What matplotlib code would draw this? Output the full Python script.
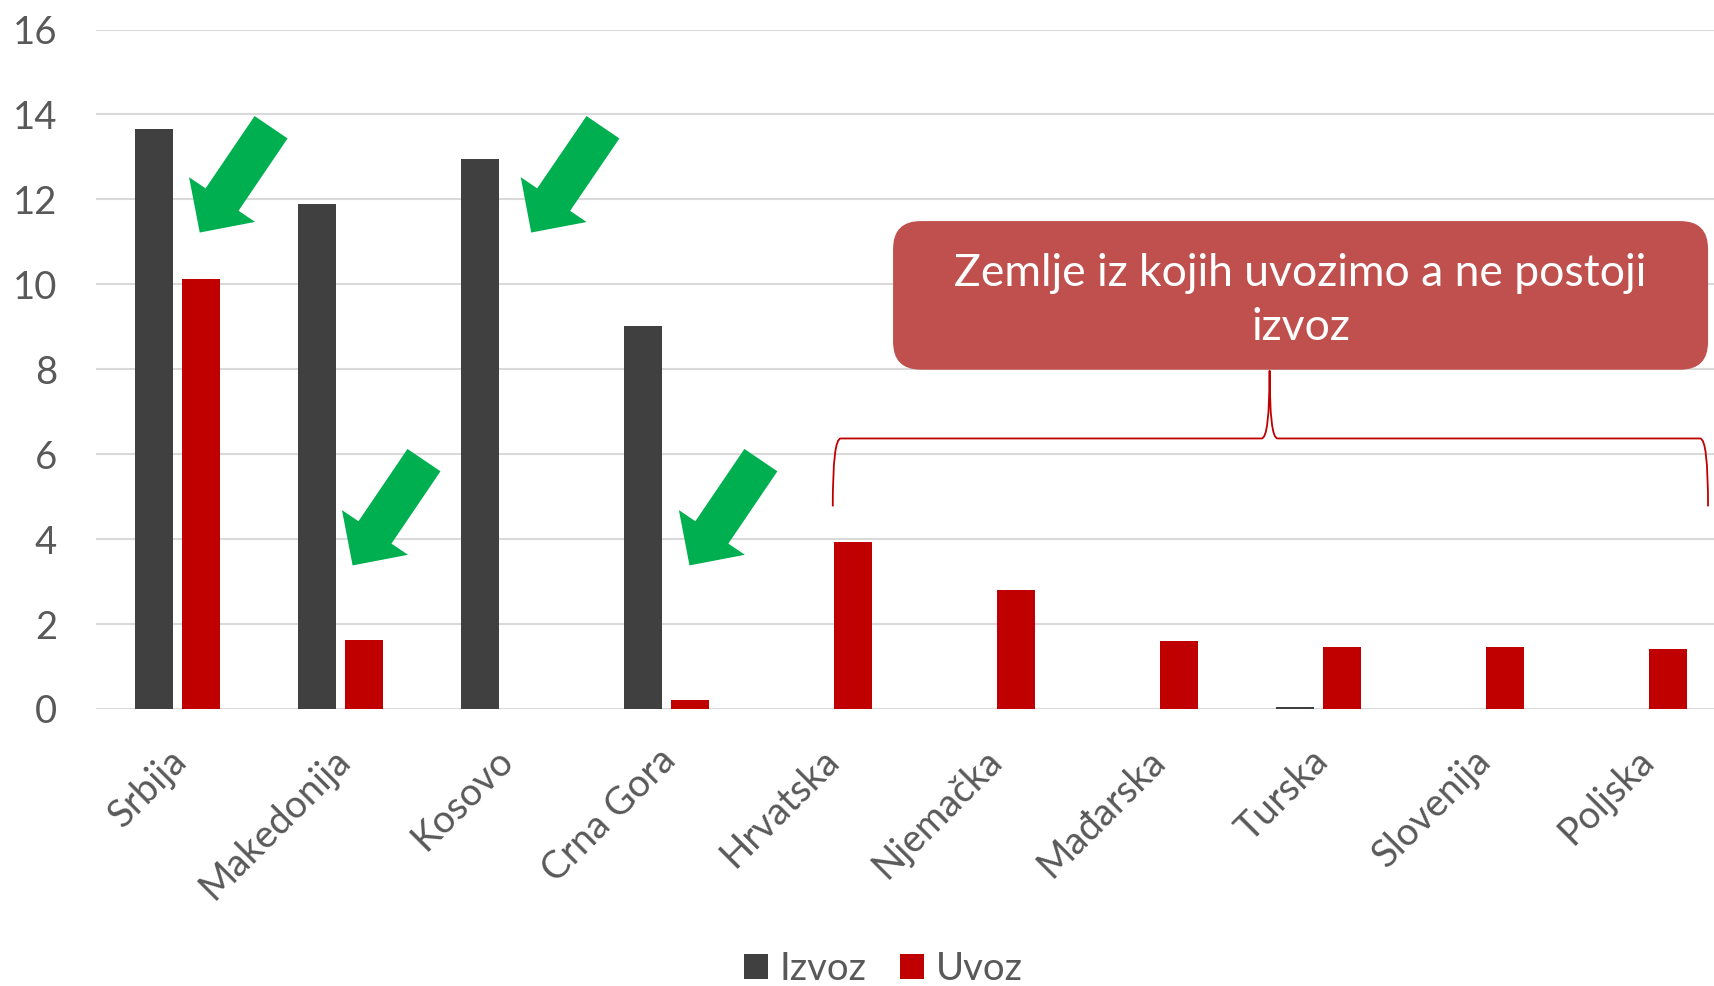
import matplotlib.pyplot as plt
import matplotlib.transforms as mtransforms
import numpy as np
from matplotlib.patches import FancyBboxPatch, PathPatch
from matplotlib.path import Path

plt.rcParams['font.family'] = ['Lato', 'DejaVu Sans']

# data
countries = ['Srbija', 'Makedonija', 'Kosovo', 'Crna Gora', 'Hrvatska',
             'Njemačka', 'Mađarska', 'Turska', 'Slovenija', 'Poljska']
izvoz = [13.66, 11.9, 12.96, 9.02, 0, 0, 0, 0.05, 0, 0]
uvoz = [10.13, 1.62, 0, 0.21, 3.94, 2.81, 1.6, 1.45, 1.45, 1.42]
yticks = [0, 2, 4, 6, 8, 10, 12, 14, 16]

# arrows: (tip, tail) in data units
arrows = [((0.136, 11.22), (0.574, 13.70)),
          ((2.17, 11.22), (2.61, 13.70)),
          ((1.074, 3.38), (1.512, 5.86)),
          ((3.141, 3.38), (3.579, 5.86))]

note = 'Zemlje iz kojih uvozimo a ne postoji\nizvoz'

GREY = '#404040'
RED = '#C00000'
TXT = '#595959'

fig = plt.figure(figsize=(17.15, 9.86), dpi=100)
ax = fig.add_axes([0.056, 0.281, 0.9504, 0.689])

x = np.arange(len(countries))
w = 0.228
ax.bar(x - 0.144, izvoz, w, color=GREY, label='Izvoz', zorder=2)
ax.bar(x + 0.144, uvoz, w, color=RED, label='Uvoz', zorder=2)

ax.set_xlim(-0.5, 9.5)
ax.set_ylim(0, 16)
ax.set_yticks(yticks)
ax.grid(axis='y', color='#D9D9D9', lw=1.5, zorder=0)
ax.set_axisbelow(True)
for s in ax.spines.values():
    s.set_visible(False)
ax.tick_params(axis='y', length=0, pad=28, labelsize=27.5, labelcolor=TXT)
ax.tick_params(axis='x', length=0, pad=24, labelsize=27.5, labelcolor=TXT)
ax.set_xticks(x)
ax.set_xticklabels(countries, rotation=45, ha='right', va='top',
                   rotation_mode='anchor')
shift = mtransforms.ScaledTranslation(-0.09, 0, fig.dpi_scale_trans)
for lab in ax.get_xticklabels():
    lab.set_transform(lab.get_transform() + shift)

# green arrows
for tip, tail in arrows:
    ax.annotate('', xy=tip, xytext=tail,
                arrowprops=dict(arrowstyle='simple,head_length=1.0,head_width=2.0,tail_width=1.0',
                                fc='#00B050', ec='none', mutation_scale=28.7,
                                shrinkA=0, shrinkB=0), zorder=4)

# text box
box = FancyBboxPatch((4.39, 7.99), 5.0, 3.5,
                     boxstyle='round,pad=0,rounding_size=0.17',
                     mutation_aspect=3.84, fc='#C0504D', ec='none',
                     zorder=5, clip_on=False)
ax.add_patch(box)
ax.text(6.89, 9.62, note, ha='center', va='center', color='white',
        fontsize=32, linespacing=1.40, zorder=6)

# brace
xl, xc, xr = 4.02, 6.70, 9.39
yh, rx, ry = 6.37, 0.049, 1.6
verts = [(xl, yh - ry), (xl, yh), (xl + rx, yh),
         (xc - rx, yh), (xc, yh), (xc, yh + ry),
         (xc, yh), (xc + rx, yh),
         (xr - rx, yh), (xr, yh), (xr, yh - ry)]
codes = [Path.MOVETO, Path.CURVE3, Path.CURVE3,
         Path.LINETO, Path.CURVE3, Path.CURVE3,
         Path.CURVE3, Path.CURVE3,
         Path.LINETO, Path.CURVE3, Path.CURVE3]
ax.add_patch(PathPatch(Path(verts, codes), fc='none', ec=RED, lw=1.3,
                       zorder=3, clip_on=False))

leg = fig.legend(loc='center', bbox_to_anchor=(0.515, 1 - 969 / 986), ncol=2,
                 frameon=False, fontsize=27.5, handlelength=0.62, handleheight=0.62,
                 handletextpad=0.3, columnspacing=0.9)
for t in leg.get_texts():
    t.set_color(TXT)

fig.savefig('out.png', dpi=100)
